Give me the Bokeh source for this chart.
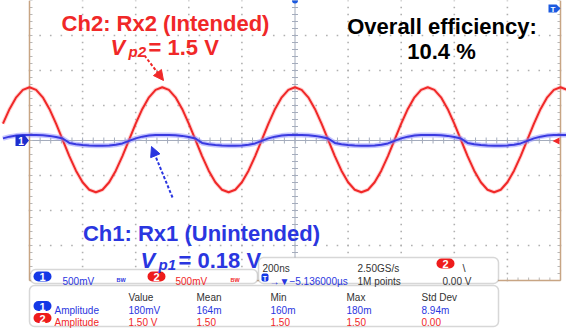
from bokeh.plotting import figure
from bokeh.models import Range1d, BoxAnnotation, Arrow, NormalHead
from bokeh.core.properties import value
from bokeh.embed import file_html
from bokeh.resources import INLINE

# ---------------- data ----------------
time_ns = [-1100, -1075, -1050, -1025, -1000, -975, -950, -925, -900, -875, -850, -825,
           -800, -775, -750, -725, -700, -675, -650, -625, -600, -575, -550, -525,
           -500, -475, -450, -425, -400, -375, -350, -325, -300, -275, -250, -225,
           -200, -175, -150, -125, -100, -75, -50, -25, 0, 25, 50, 75, 100, 125,
           150, 175, 200, 225, 250, 275, 300, 325, 350, 375, 400, 425, 450, 475,
           500, 525, 550, 575, 600, 625, 650, 675, 700, 725, 750, 775, 800, 825,
           850, 875, 900, 925, 950, 975, 1000, 1025, 1050, 1075, 1100]

# Ch2 (Rx2, intended) in volts
ch2_volts = [0.242, 0.451, 0.617, 0.723,
             0.760, 0.723, 0.617, 0.451, 0.242, 0.010, -0.222, -0.431, -0.597, -0.703,
             -0.740, -0.703, -0.597, -0.431, -0.222, 0.010, 0.242, 0.451, 0.617, 0.723,
             0.760, 0.723, 0.617, 0.451, 0.242, 0.010, -0.222, -0.431, -0.597, -0.703,
             -0.740, -0.703, -0.597, -0.431, -0.222, 0.010, 0.242, 0.451, 0.617, 0.723,
             0.760, 0.723, 0.617, 0.451, 0.242, 0.010, -0.222, -0.431, -0.597, -0.703,
             -0.740, -0.703, -0.597, -0.431, -0.222, 0.010, 0.242, 0.451, 0.617, 0.723,
             0.760, 0.723, 0.617, 0.451, 0.242, 0.010, -0.222, -0.431, -0.597, -0.703,
             -0.740, -0.703, -0.597, -0.431, -0.222, 0.010, 0.242, 0.451, 0.617, 0.723,
             0.760, 0.723, 0.617, 0.451, 0.242]

# Ch1 (Rx1, unintended) in volts
ch1_volts = [0.030, 0.055, 0.070, 0.077,
             0.080, 0.079, 0.075, 0.066, 0.050, 0.028, -0.035, -0.055, -0.065, -0.072,
             -0.075, -0.074, -0.070, -0.060, -0.042, -0.005, 0.030, 0.055, 0.070, 0.077,
             0.080, 0.079, 0.075, 0.066, 0.050, 0.028, -0.035, -0.055, -0.065, -0.072,
             -0.075, -0.074, -0.070, -0.060, -0.042, -0.005, 0.030, 0.055, 0.070, 0.077,
             0.080, 0.079, 0.075, 0.066, 0.050, 0.028, -0.035, -0.055, -0.065, -0.072,
             -0.075, -0.074, -0.070, -0.060, -0.042, -0.005, 0.030, 0.055, 0.070, 0.077,
             0.080, 0.079, 0.075, 0.066, 0.050, 0.028, -0.035, -0.055, -0.065, -0.072,
             -0.075, -0.074, -0.070, -0.060, -0.042, -0.005, 0.030, 0.055, 0.070, 0.077,
             0.080, 0.079, 0.075, 0.066, 0.050]

meas_headers = ["Value", "Mean", "Min", "Max", "Std Dev"]
ch1_meas = ["180mV", "164m", "160m", "180m", "8.94m"]
ch2_meas = ["1.50 V", "1.50", "1.50", "1.50", "0.00"]
ch_scale = ["500mV", "500mV"]
timebase = "200ns"
delay = "\u2192\u25bc\u22125.136000\u00b5s"
sample_rate = "2.50GS/s"
points = "1M points"
trig_level = "0.00 V"

title_ch2 = "Ch2: Rx2 (Intended)"
title_ch1 = "Ch1: Rx1 (Unintended)"
vp2_value = "= 1.5 V"
vp1_value = "= 0.18 V"
eff_title = "Overall efficiency:"
eff_value = "10.4 %"

# ---------------- geometry ----------------
W, H = 566, 332
NS_PER_DIV, V_PER_DIV = 200, 0.5
X0, PX_PER_DIV_X = 294.5, 53.1
Y0, PX_PER_DIV_Y = 140.0, 35.0
PX_NS = PX_PER_DIV_X / NS_PER_DIV
PX_V = PX_PER_DIV_Y / V_PER_DIV


def tx(s):
    return (s - X0) / PX_NS


def vy(s):
    return (Y0 - s) / PX_V


RED = "#f02828"
BLUE = "#2a36e0"
TAN = "#c8a584"
CENTER = "#a4acbc"
UI_FONT = "Liberation Sans"
UI_SIZE = 10
BIG_FONT = "Liberation Sans"

p = figure(width=W, height=H,
           x_range=Range1d(tx(0), tx(W)),
           y_range=Range1d(vy(H), vy(0)),
           output_backend="svg", toolbar_location=None,
           x_axis_location=None, y_axis_location=None,
           min_border=0, outline_line_color=None,
           background_fill_color="white", border_fill_color="white")
p.grid.visible = False

# ---------------- graticule ----------------
HX, HY = 5, 4  # half number of divisions
dx, dy = [], []
for i in range(-HX + 1, HX):
    if i == 0:
        continue
    for j in range(-HY * 5, HY * 5 + 1):
        dx.append(i * NS_PER_DIV)
        dy.append(j * V_PER_DIV / 5)
for j in range(-HY + 1, HY):
    if j == 0:
        continue
    for i in range(-HX * 5, HX * 5 + 1):
        dx.append(i * NS_PER_DIV / 5)
        dy.append(j * V_PER_DIV)
p.scatter(dx, dy, marker="square", size=1.6, fill_color="#b0b0b0", line_color=None)

tmin, tmax = -HX * NS_PER_DIV, HX * NS_PER_DIV
vmin, vmax = -HY * V_PER_DIV, HY * V_PER_DIV
tick_t = 3 / PX_NS
tick_v = 3 / PX_V

# center cross with minor ticks
p.segment(x0=[0, tmin], y0=[vmin, 0], x1=[0, tmax], y1=[vmax, 0], line_color=CENTER, line_width=1)
mt = [i * NS_PER_DIV / 5 for i in range(-HX * 5, HX * 5 + 1)]
mv = [j * V_PER_DIV / 5 for j in range(-HY * 5, HY * 5 + 1)]
p.segment(x0=mt, y0=[-tick_v] * len(mt), x1=mt, y1=[tick_v] * len(mt), line_color=CENTER, line_width=1)
p.segment(x0=[-tick_t] * len(mv), y0=mv, x1=[tick_t] * len(mv), y1=mv, line_color=CENTER, line_width=1)
# border ticks
p.segment(x0=[tmin] * len(mv), y0=mv, x1=[tmin + tick_t] * len(mv), y1=mv, line_color="#b8b8b8", line_width=1)
p.segment(x0=[tmax] * len(mv), y0=mv, x1=[tmax - tick_t] * len(mv), y1=mv, line_color="#b8b8b8", line_width=1)
p.segment(x0=mt, y0=[vmin] * len(mt), x1=mt, y1=[vmin + tick_v] * len(mt), line_color="#b8b8b8", line_width=1)
# border
p.segment(x0=[tmin, tmax, tmin], y0=[vmin, vmin, vmin], x1=[tmin, tmax, tmax], y1=[vmax, vmax, vmin],
          line_color=TAN, line_width=1.5)

# ---------------- traces ----------------
p.line(time_ns, ch2_volts, line_color="#ff8080", line_alpha=0.35, line_width=4)
p.line(time_ns, ch2_volts, line_color=RED, line_width=2)
p.line(time_ns, ch1_volts, line_color="#8c8cff", line_alpha=0.5, line_width=5)
p.line(time_ns, ch1_volts, line_color="#3a3ae0", line_width=2)

# ---------------- markers ----------------
p.patch([tx(s) for s in (15, 24, 28.5, 24, 15)], [vy(s) for s in (134.5, 134.5, 140, 145.5, 145.5)],
        fill_color="#1c2ed0", line_color=None)
p.patch([tx(s) for s in (559, 552, 559)], [vy(s) for s in (137, 140.5, 144)], fill_color=RED, line_color=None)
p.patch([tx(s) for s in (548, 556, 560, 556, 548)], [vy(s) for s in (4, 4, 8, 12, 12)],
        fill_color="#1c5ae0", line_color=None)
p.scatter([0], [vy(0)], marker="circle", size=6, fill_color="#1c5ae0", line_color=None)


def txt(x, y, s, color, size, font=UI_FONT, style="normal", align="left", baseline="alphabetic"):
    r = p.text(x=[tx(x)], y=[vy(y)], text=[s], text_color=color, text_font=value(font),
               text_font_size=f"{size}px", text_font_style=style, text_align=align,
               text_baseline=baseline)
    r.level = "overlay"
    return r


txt(20.5, 140, "1", "white", 10, font=BIG_FONT, style="bold", align="center", baseline="middle")
txt(552.5, 8.5, "T", "white", 8, font=BIG_FONT, style="bold", align="center", baseline="middle")

# ---------------- annotations ----------------
txt(165, 23, title_ch2, RED, 22, font=BIG_FONT, style="bold", align="center")
txt(110, 46.5, "V", RED, 22, font=BIG_FONT, style="bold italic")
txt(128, 51, "p2", RED, 15, font=BIG_FONT, style="bold italic")
txt(148, 46.5, vp2_value, RED, 22, font=BIG_FONT, style="bold")

txt(441.5, 26, eff_title, "black", 22, font=BIG_FONT, style="bold", align="center")
txt(441, 51, eff_value, "black", 22, font=BIG_FONT, style="bold", align="center")

txt(201, 233, title_ch1, BLUE, 22, font=BIG_FONT, style="bold", align="center")
txt(140, 259.5, "V", BLUE, 22, font=BIG_FONT, style="bold italic")
txt(158, 264, "p1", BLUE, 15, font=BIG_FONT, style="bold italic")
txt(178, 259.5, vp1_value, BLUE, 22, font=BIG_FONT, style="bold")

p.add_layout(Arrow(end=NormalHead(size=10, fill_color=RED, line_color=RED),
                   x_start=tx(144), y_start=vy(55), x_end=tx(163), y_end=vy(80),
                   line_color=RED, line_width=2, line_dash="3 2"))
p.add_layout(Arrow(end=NormalHead(size=10, fill_color=BLUE, line_color=BLUE),
                   x_start=tx(172), y_start=vy(197), x_end=tx(151), y_end=vy(146),
                   line_color=BLUE, line_width=2, line_dash="3 2"))

# ---------------- info panels ----------------
def box(l, r, t, b, fill="white", line="#7c7c7c", radius=5, lw=1.5):
    p.add_layout(BoxAnnotation(left=tx(l), right=tx(r), top=vy(t), bottom=vy(b),
                               fill_color=fill, fill_alpha=1, line_color=line, line_width=lw,
                               border_radius=radius))


box(30, 257, 269, 283)
box(258, 498, 257, 283)
box(29, 498, 285, 326)

PILL_BLUE = "#1438e6"
PILL_RED = "#ee1c1c"


def pill(xc, yc, color, label):
    box(xc - 9, xc + 9, yc - 5, yc + 5, fill=color, line=None, radius=5, lw=0)
    txt(xc, yc + 0.5, label, "white", 11, font=BIG_FONT, style="bold", align="center", baseline="middle")


# channel scale box
pill(42, 276, PILL_BLUE, "1")
txt(62, 280.5, ch_scale[0], BLUE, UI_SIZE)
txt(116, 279, "BW", BLUE, 5.5, style="bold")
pill(156, 276, PILL_RED, "2")
txt(175, 280.5, ch_scale[1], RED, UI_SIZE)
txt(230, 279, "BW", RED, 5.5, style="bold")

# timebase box
txt(262, 267.5, timebase, "#333333", UI_SIZE)
box(261, 268, 273, 281, fill=PILL_BLUE, line=None, radius=2, lw=0)
txt(264.5, 277.5, "T", "white", 7, font=BIG_FONT, style="bold", align="center", baseline="middle")
txt(269, 280.5, delay, BLUE, UI_SIZE)
txt(357, 267.5, sample_rate, "#333333", UI_SIZE)
txt(357, 280.5, points, "#333333", UI_SIZE)
pill(445, 263, PILL_RED, "2")
txt(462, 267, "\\", "#333333", UI_SIZE + 1, font=BIG_FONT)
txt(442, 280.5, trig_level, "#333333", UI_SIZE)

# measurement box
cols = [128, 196, 270, 346, 421]
for c, h in zip(cols, meas_headers):
    txt(c, 297, h, "#333333", UI_SIZE)
pill(42, 305.5, PILL_BLUE, "1")
txt(54, 309.5, "Amplitude", BLUE, UI_SIZE)
for c, v in zip(cols, ch1_meas):
    txt(c, 309.5, v, BLUE, UI_SIZE)
pill(42, 317.5, PILL_RED, "2")
txt(54, 321.5, "Amplitude", RED, UI_SIZE)
for c, v in zip(cols, ch2_meas):
    txt(c, 321.5, v, RED, UI_SIZE)

open("out.html", "w").write(file_html(p, INLINE))
